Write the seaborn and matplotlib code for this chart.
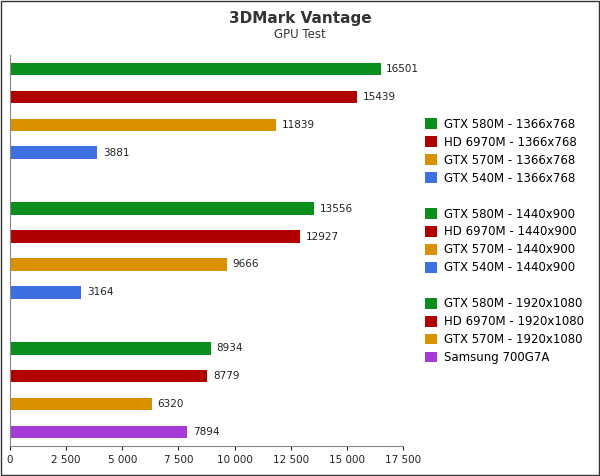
import pandas as pd
import matplotlib.pyplot as plt
import seaborn as sns
from matplotlib.patches import Patch
from matplotlib.ticker import FuncFormatter

# Data
labels = ['GTX 580M - 1366x768', 'HD 6970M - 1366x768', 'GTX 570M - 1366x768', 'GTX 540M - 1366x768',
          'GTX 580M - 1440x900', 'HD 6970M - 1440x900', 'GTX 570M - 1440x900', 'GTX 540M - 1440x900',
          'GTX 580M - 1920x1080', 'HD 6970M - 1920x1080', 'GTX 570M - 1920x1080', 'Samsung 700G7A']
scores = [16501, 15439, 11839, 3881,
          13556, 12927, 9666, 3164,
          8934, 8779, 6320, 7894]
slots = [0, 1, 2, 3, 5, 6, 7, 8, 10, 11, 12, 13]

green, red, orange, blue, purple = '#0a8f1e', '#b00000', '#d99100', '#3d6fe0', '#a43bd6'
colors = [green, red, orange, blue, green, red, orange, blue, green, red, orange, purple]

df = pd.DataFrame({'label': labels, 'score': scores, 'slot': slots})

fig = plt.figure(figsize=(6, 4.76), dpi=100)
fig.patch.set_facecolor('white')
ax = fig.add_axes([10 / 600, 30 / 476, 393 / 600, 391 / 476])

sns.barplot(data=df, x='score', y='slot', hue='label', orient='h', native_scale=True,
            palette=dict(zip(labels, colors)), dodge=False, width=0.45, legend=False,
            saturation=1, ax=ax)

for s, v in zip(slots, scores):
    ax.text(v + 250, s, str(v), va='center', ha='left', fontsize=7.5, color='#222222')

ax.set_xlim(0, 17500)
ax.set_ylim(13.5, -0.5)
ax.set_xticks(range(0, 17501, 2500))
ax.xaxis.set_major_formatter(FuncFormatter(lambda x, p: f'{int(x):,}'.replace(',', ' ')))
ax.tick_params(axis='x', labelsize=7.5, colors='#222222', length=3)
ax.set_yticks([])
ax.set_xlabel('')
ax.set_ylabel('')
for sp in ['top', 'right']:
    ax.spines[sp].set_visible(False)
ax.spines['left'].set_color('#888888')
ax.spines['bottom'].set_color('#888888')

# Legend with gaps between resolution groups
handles = []
for i, (l, c) in enumerate(zip(labels, colors)):
    if i in (4, 8):
        handles.append(Patch(color='none', label=' '))
    handles.append(Patch(facecolor=c, label=l))
fig.legend(handles=handles, loc='upper left', bbox_to_anchor=(420 / 600, 1 - 113 / 476),
           frameon=False, fontsize=8.5, handlelength=1, handleheight=1, handletextpad=0.6,
           labelspacing=0.42, borderaxespad=0)

fig.text(0.5, 1 - 19 / 476, '3DMark Vantage', ha='center', va='center', fontsize=11, fontweight='bold', color='#333333')
fig.text(0.5, 1 - 35 / 476, 'GPU Test', ha='center', va='center', fontsize=8.5, color='#333333')
fig.add_artist(plt.Rectangle((0.002, 0.002), 0.996, 0.996, transform=fig.transFigure,
                             fill=False, edgecolor='#333333', linewidth=1))

plt.savefig('out.png', dpi=100)
